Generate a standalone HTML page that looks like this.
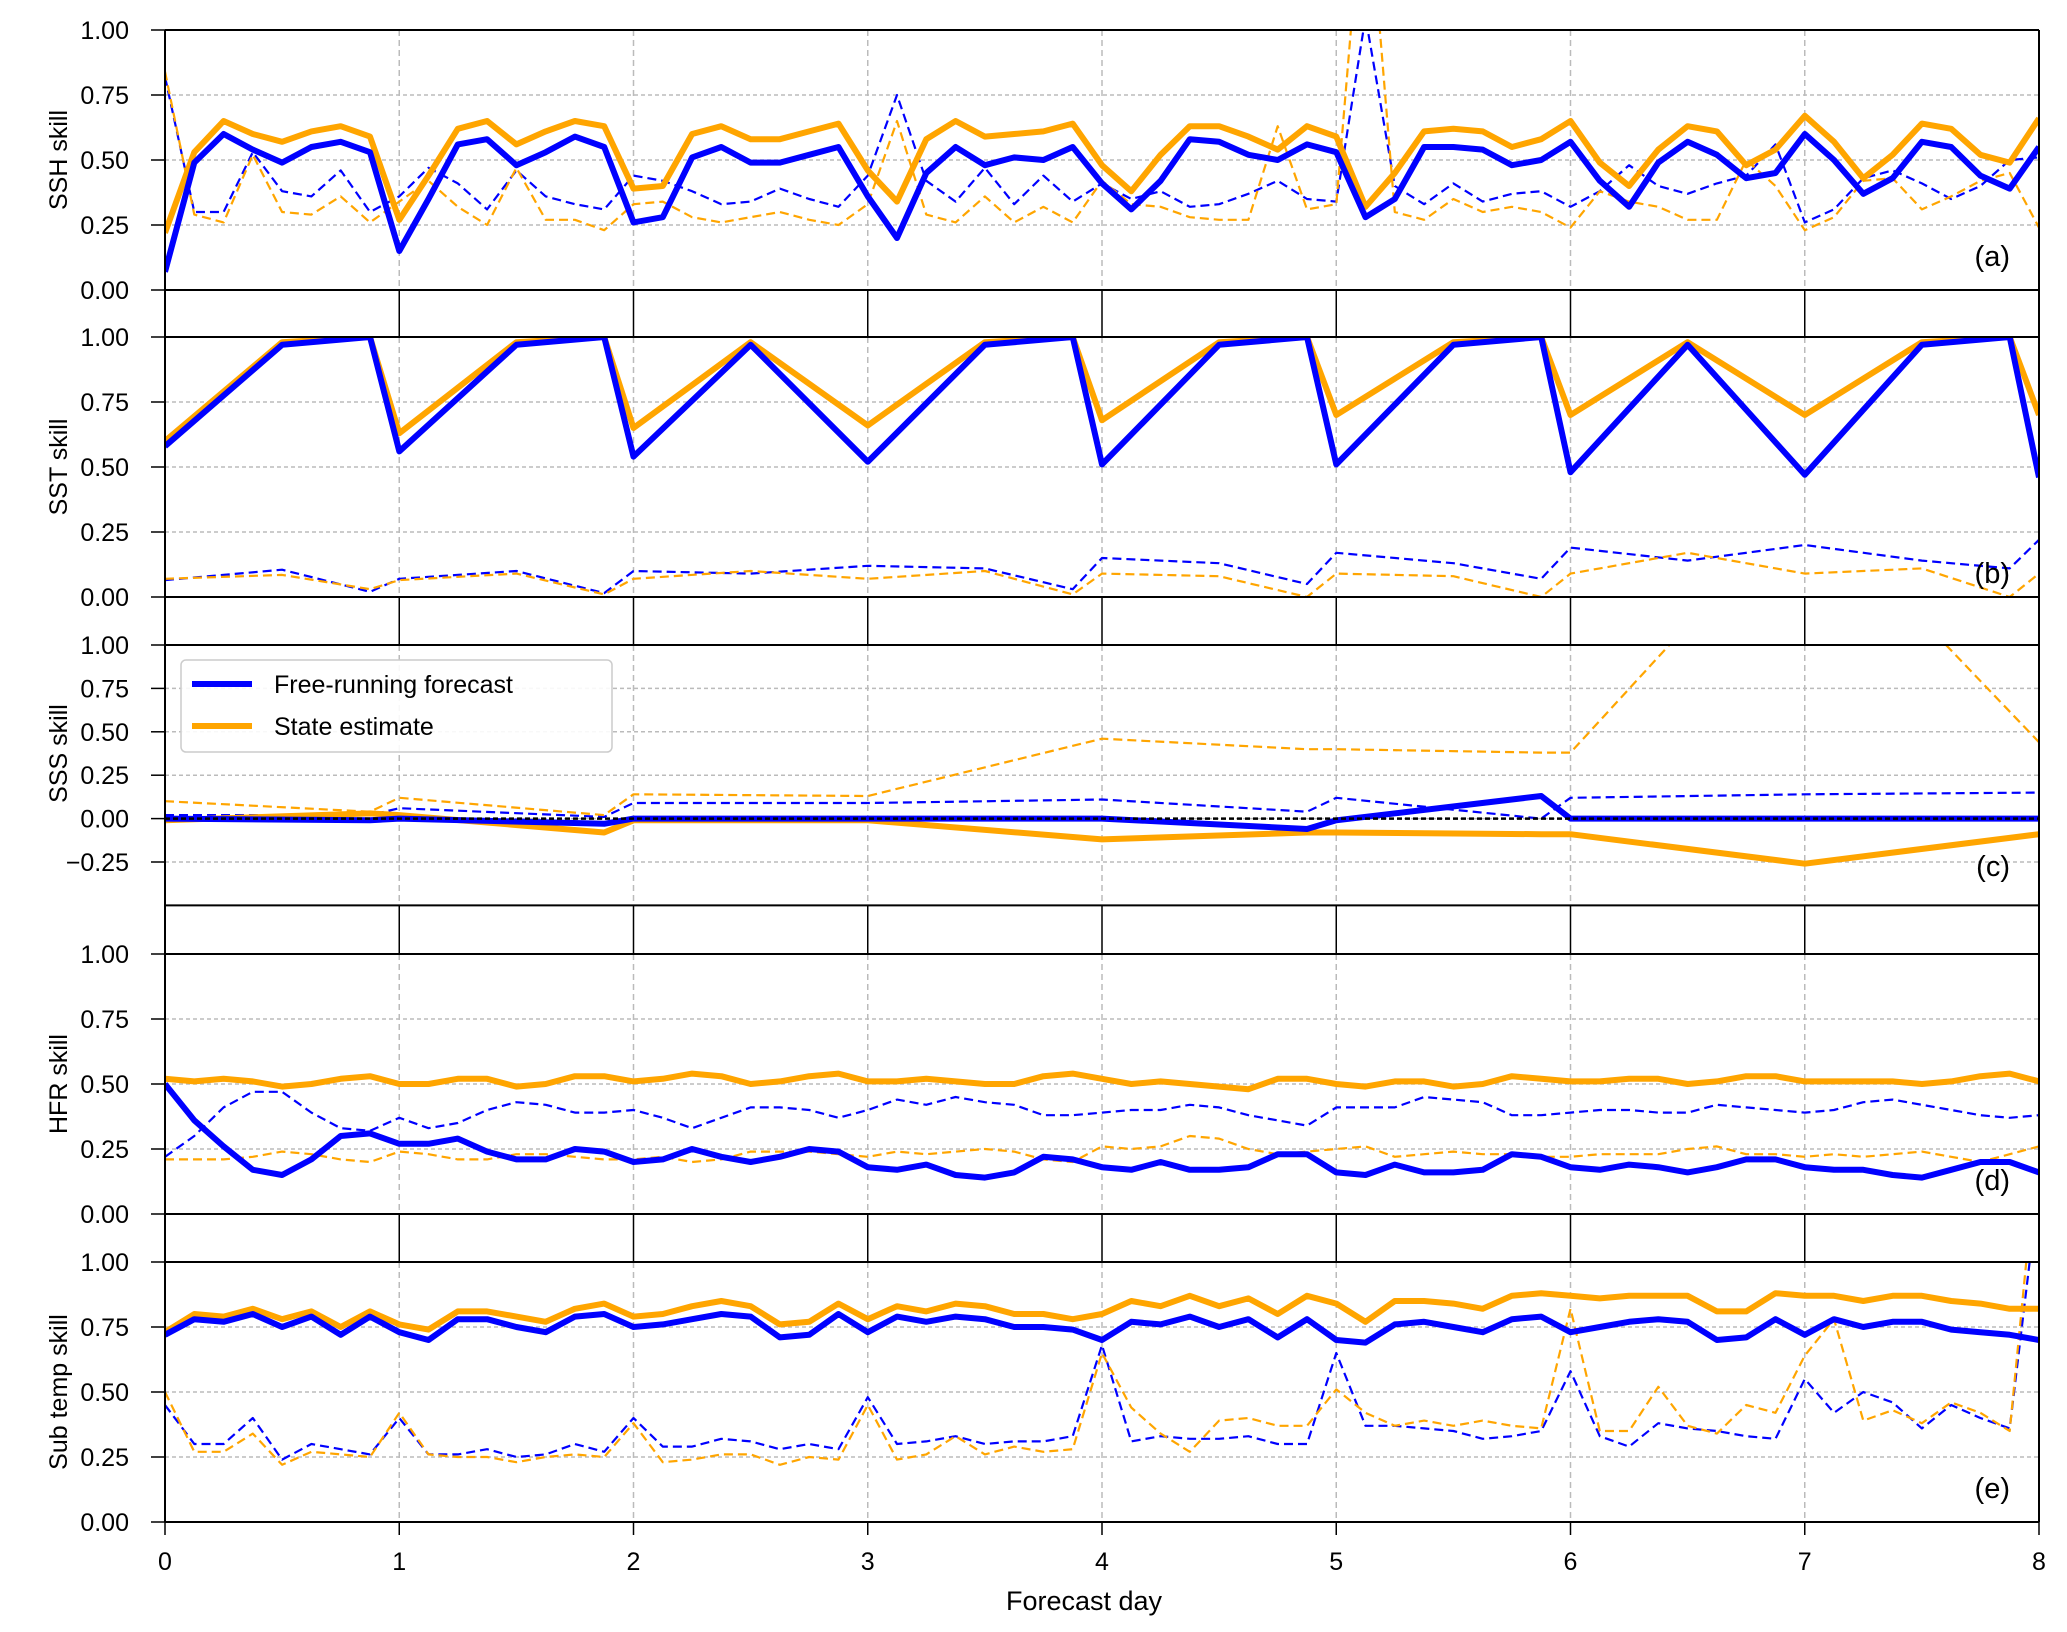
<!DOCTYPE html>
<html><head><meta charset="utf-8"><style>
html,body{margin:0;padding:0;background:#fff;}
svg{display:block;font-family:"Liberation Sans","DejaVu Sans",sans-serif;}
</style></head><body>
<svg id="chart" width="2067" height="1632" viewBox="0 0 2067 1632" xmlns="http://www.w3.org/2000/svg"></svg>
<script>
const x3h = [];
for (let i = 0; i <= 64; i++) x3h.push(i / 8);
const xDaily = [0,0.5,0.875,1,1.5,1.875,2,2.5,3,3.5,3.875,4,4.5,4.875,5,5.5,5.875,6,6.5,7,7.5,7.875,8];
const xSSS = [0,0.875,1,1.875,2,3,4,4.875,5,5.875,6,7,8];
const xTicks = [0,1,2,3,4,5,6,7,8];

const sshFree = [0.07,0.49,0.60,0.54,0.49,0.55,0.57,0.53,0.15,0.35,0.56,0.58,0.48,0.53,0.59,0.55,0.26,0.28,0.51,0.55,0.49,0.49,0.52,0.55,0.36,0.20,0.45,0.55,0.48,0.51,0.50,0.55,0.41,0.31,0.42,0.58,0.57,0.52,0.50,0.56,0.53,0.28,0.35,0.55,0.55,0.54,0.48,0.50,0.57,0.42,0.32,0.49,0.57,0.52,0.43,0.45,0.60,0.50,0.37,0.43,0.57,0.55,0.44,0.39,0.55];
const sshState = [0.22,0.53,0.65,0.60,0.57,0.61,0.63,0.59,0.27,0.44,0.62,0.65,0.56,0.61,0.65,0.63,0.39,0.40,0.60,0.63,0.58,0.58,0.61,0.64,0.46,0.34,0.58,0.65,0.59,0.60,0.61,0.64,0.48,0.38,0.52,0.63,0.63,0.59,0.54,0.63,0.59,0.32,0.45,0.61,0.62,0.61,0.55,0.58,0.65,0.49,0.40,0.54,0.63,0.61,0.48,0.54,0.67,0.57,0.43,0.52,0.64,0.62,0.52,0.49,0.66];
const sshFreeD = [0.82,0.30,0.30,0.53,0.38,0.36,0.46,0.30,0.36,0.47,0.41,0.31,0.46,0.36,0.33,0.31,0.44,0.42,0.38,0.33,0.34,0.39,0.35,0.32,0.44,0.75,0.42,0.34,0.47,0.33,0.44,0.34,0.41,0.35,0.38,0.32,0.33,0.37,0.42,0.35,0.34,1.05,0.40,0.33,0.41,0.34,0.37,0.38,0.32,0.38,0.48,0.40,0.37,0.41,0.44,0.56,0.26,0.31,0.43,0.46,0.41,0.35,0.40,0.50,0.51];
const sshStateD = [0.84,0.29,0.26,0.52,0.30,0.29,0.36,0.26,0.34,0.42,0.32,0.25,0.47,0.27,0.27,0.23,0.33,0.34,0.28,0.26,0.28,0.30,0.27,0.25,0.33,0.65,0.29,0.26,0.36,0.26,0.32,0.26,0.42,0.33,0.32,0.28,0.27,0.27,0.63,0.31,0.33,1.67,0.30,0.27,0.35,0.30,0.32,0.30,0.24,0.38,0.34,0.32,0.27,0.27,0.50,0.40,0.23,0.28,0.42,0.43,0.31,0.36,0.42,0.45,0.24];

const sstFree = [0.58,0.97,1.0,0.56,0.97,1.0,0.54,0.97,0.52,0.97,1.0,0.51,0.97,1.0,0.51,0.97,1.0,0.48,0.97,0.47,0.97,1.0,0.46];
const sstState = [0.60,0.98,1.0,0.63,0.98,1.0,0.65,0.98,0.66,0.98,1.0,0.68,0.98,1.0,0.70,0.98,1.0,0.70,0.98,0.70,0.98,1.0,0.70];
const sstFreeD = [0.065,0.105,0.02,0.07,0.10,0.015,0.10,0.09,0.12,0.11,0.03,0.15,0.13,0.05,0.17,0.13,0.07,0.19,0.14,0.20,0.14,0.11,0.22];
const sstStateD = [0.07,0.085,0.03,0.065,0.09,0.01,0.07,0.10,0.07,0.10,0.01,0.09,0.08,0.0,0.09,0.08,0.0,0.09,0.17,0.09,0.11,0.0,0.09];

const sssFree = [0.0,-0.01,0.0,-0.03,0.0,0.0,0.0,-0.06,-0.01,0.13,0.0,0.0,0.0];
const sssState = [-0.01,0.03,0.02,-0.08,-0.01,-0.01,-0.12,-0.08,-0.08,-0.09,-0.09,-0.26,-0.09];
const sssFreeD = [0.02,0.02,0.06,0.01,0.09,0.09,0.11,0.04,0.12,0.0,0.12,0.14,0.15];
const sssStateD = [0.10,0.04,0.12,0.02,0.14,0.13,0.46,0.40,0.40,0.38,0.38,1.85,0.44];

const hfrState = [0.52,0.51,0.52,0.51,0.49,0.50,0.52,0.53,0.50,0.50,0.52,0.52,0.49,0.50,0.53,0.53,0.51,0.52,0.54,0.53,0.50,0.51,0.53,0.54,0.51,0.51,0.52,0.51,0.50,0.50,0.53,0.54,0.52,0.50,0.51,0.50,0.49,0.48,0.52,0.52,0.50,0.49,0.51,0.51,0.49,0.50,0.53,0.52,0.51,0.51,0.52,0.52,0.50,0.51,0.53,0.53,0.51,0.51,0.51,0.51,0.50,0.51,0.53,0.54,0.51];
const hfrFree = [0.50,0.36,0.26,0.17,0.15,0.21,0.30,0.31,0.27,0.27,0.29,0.24,0.21,0.21,0.25,0.24,0.20,0.21,0.25,0.22,0.20,0.22,0.25,0.24,0.18,0.17,0.19,0.15,0.14,0.16,0.22,0.21,0.18,0.17,0.20,0.17,0.17,0.18,0.23,0.23,0.16,0.15,0.19,0.16,0.16,0.17,0.23,0.22,0.18,0.17,0.19,0.18,0.16,0.18,0.21,0.21,0.18,0.17,0.17,0.15,0.14,0.17,0.20,0.20,0.16];
const hfrFreeD = [0.22,0.30,0.41,0.47,0.47,0.39,0.33,0.32,0.37,0.33,0.35,0.40,0.43,0.42,0.39,0.39,0.40,0.37,0.33,0.37,0.41,0.41,0.40,0.37,0.40,0.44,0.42,0.45,0.43,0.42,0.38,0.38,0.39,0.40,0.40,0.42,0.41,0.38,0.36,0.34,0.41,0.41,0.41,0.45,0.44,0.43,0.38,0.38,0.39,0.40,0.40,0.39,0.39,0.42,0.41,0.40,0.39,0.40,0.43,0.44,0.42,0.40,0.38,0.37,0.38];
const hfrStateD = [0.21,0.21,0.21,0.22,0.24,0.23,0.21,0.20,0.24,0.23,0.21,0.21,0.23,0.23,0.22,0.21,0.21,0.22,0.20,0.21,0.24,0.24,0.24,0.23,0.22,0.24,0.23,0.24,0.25,0.24,0.21,0.20,0.26,0.25,0.26,0.30,0.29,0.25,0.23,0.24,0.25,0.26,0.22,0.23,0.24,0.23,0.23,0.22,0.22,0.23,0.23,0.23,0.25,0.26,0.23,0.23,0.22,0.23,0.22,0.23,0.24,0.22,0.20,0.23,0.26];

const subState = [0.73,0.80,0.79,0.82,0.78,0.81,0.75,0.81,0.76,0.74,0.81,0.81,0.79,0.77,0.82,0.84,0.79,0.80,0.83,0.85,0.83,0.76,0.77,0.84,0.78,0.83,0.81,0.84,0.83,0.80,0.80,0.78,0.80,0.85,0.83,0.87,0.83,0.86,0.80,0.87,0.84,0.77,0.85,0.85,0.84,0.82,0.87,0.88,0.87,0.86,0.87,0.87,0.87,0.81,0.81,0.88,0.87,0.87,0.85,0.87,0.87,0.85,0.84,0.82,0.82];
const subFree = [0.72,0.78,0.77,0.80,0.75,0.79,0.72,0.79,0.73,0.70,0.78,0.78,0.75,0.73,0.79,0.80,0.75,0.76,0.78,0.80,0.79,0.71,0.72,0.80,0.73,0.79,0.77,0.79,0.78,0.75,0.75,0.74,0.70,0.77,0.76,0.79,0.75,0.78,0.71,0.78,0.70,0.69,0.76,0.77,0.75,0.73,0.78,0.79,0.73,0.75,0.77,0.78,0.77,0.70,0.71,0.78,0.72,0.78,0.75,0.77,0.77,0.74,0.73,0.72,0.70];
const subFreeD = [0.45,0.30,0.30,0.40,0.24,0.30,0.28,0.26,0.40,0.26,0.26,0.28,0.25,0.26,0.30,0.27,0.40,0.29,0.29,0.32,0.31,0.28,0.30,0.28,0.48,0.30,0.31,0.33,0.30,0.31,0.31,0.33,0.68,0.31,0.33,0.32,0.32,0.33,0.30,0.30,0.65,0.37,0.37,0.36,0.35,0.32,0.33,0.35,0.58,0.33,0.29,0.38,0.36,0.35,0.33,0.32,0.55,0.42,0.50,0.46,0.36,0.45,0.40,0.36,1.30];
const subStateD = [0.50,0.27,0.27,0.34,0.22,0.27,0.26,0.25,0.42,0.26,0.25,0.25,0.23,0.25,0.26,0.25,0.38,0.23,0.24,0.26,0.26,0.22,0.25,0.24,0.45,0.24,0.26,0.33,0.26,0.29,0.27,0.28,0.65,0.44,0.34,0.27,0.39,0.40,0.37,0.37,0.51,0.42,0.37,0.39,0.37,0.39,0.37,0.36,0.82,0.35,0.35,0.52,0.37,0.34,0.45,0.42,0.64,0.78,0.39,0.43,0.38,0.46,0.42,0.35,1.50];

const yTicksStd = [0,0.25,0.5,0.75,1];
const yTicksSSS = [-0.25,0,0.25,0.5,0.75,1];

const svg = document.getElementById('chart');
const NS = 'http://www.w3.org/2000/svg';
const X0 = 165, DAY = 234.25, XR = X0 + 8 * DAY;
const BLUE = '#0000ff', ORANGE = '#ffa500';
function xs(d){ return X0 + d * DAY; }
function mk(tag, attrs, parent){
  const e = document.createElementNS(NS, tag);
  for (const k in attrs) e.setAttribute(k, attrs[k]);
  (parent || svg).appendChild(e);
  return e;
}
const defs = mk('defs', {});

const panels = [
  {key:'ssh', label:'SSH skill', tag:'(a)', top:30, zero:290, unit:260, lo:0, bottom:337, ticks:yTicksStd,
   series:[[x3h,sshFreeD,BLUE,true],[x3h,sshStateD,ORANGE,true],[x3h,sshState,ORANGE,false],[x3h,sshFree,BLUE,false]]},
  {key:'sst', label:'SST skill', tag:'(b)', top:337, zero:597, unit:260, lo:0, bottom:645, ticks:yTicksStd,
   series:[[xDaily,sstFreeD,BLUE,true],[xDaily,sstStateD,ORANGE,true],[xDaily,sstState,ORANGE,false],[xDaily,sstFree,BLUE,false]]},
  {key:'sss', label:'SSS skill', tag:'(c)', top:645, zero:818.6, unit:173.6, lo:-0.5, bottom:954, ticks:yTicksSSS,
   series:[[xSSS,sssFreeD,BLUE,true],[xSSS,sssStateD,ORANGE,true],[xSSS,sssState,ORANGE,false],[xSSS,sssFree,BLUE,false]]},
  {key:'hfr', label:'HFR skill', tag:'(d)', top:954, zero:1214, unit:260, lo:0, bottom:1262, ticks:yTicksStd,
   series:[[x3h,hfrFreeD,BLUE,true],[x3h,hfrStateD,ORANGE,true],[x3h,hfrState,ORANGE,false],[x3h,hfrFree,BLUE,false]]},
  {key:'subtemp', label:'Sub temp skill', tag:'(e)', top:1262, zero:1522, unit:260, lo:0, bottom:1522, ticks:yTicksStd,
   series:[[x3h,subFreeD,BLUE,true],[x3h,subStateD,ORANGE,true],[x3h,subState,ORANGE,false],[x3h,subFree,BLUE,false]]}
];

panels.forEach((p, pi) => {
  const g = mk('g', {});
  
  
  const ys = v => p.zero - v * p.unit;
  const axisY = ys(p.lo);
  const cid = 'clip' + pi;
  const cp = mk('clipPath', {id:cid}, defs);
  mk('rect', {x:X0, y:p.top, width:XR - X0, height:axisY - p.top}, cp);
  p.ticks.forEach(t => {
    if (t === 1) return;
    const gl = mk('line', {x1:X0, x2:XR, y1:ys(t), y2:ys(t), stroke:'#bbbbbb', 'stroke-width':1.5, 'stroke-dasharray':'4,3'}, g);
    
    
  });
  xTicks.forEach(d => {
    if (d === 0 || d === 8) return;
    const gl = mk('line', {x1:xs(d), x2:xs(d), y1:p.top, y2:axisY, stroke:'#bbbbbb', 'stroke-width':1.5, 'stroke-dasharray':'6,4'}, g);
    
    
  });
  const sg = mk('g', {'clip-path':'url(#' + cid + ')'}, g);
  p.series.forEach((s) => {
    const pts = s[0].map((d, i) => xs(d).toFixed(1) + ',' + ys(s[1][i]).toFixed(1)).join(' ');
    const pl = mk('polyline', {points:pts, fill:'none', stroke:s[2], 'stroke-width':s[3] ? 2.2 : 6, 'stroke-linejoin':'round', 'stroke-dasharray':s[3] ? '9,5' : 'none'}, sg);
    
    
  });
  if (p.key === 'sss') {
    const zl = mk('line', {x1:X0, x2:XR, y1:ys(0), y2:ys(0), stroke:'#000', 'stroke-width':2.5, 'stroke-dasharray':'5,3'}, g);
    
    
  }
  mk('line', {x1:X0, x2:XR, y1:p.top, y2:p.top, stroke:'#000', 'stroke-width':2}, g);
  mk('line', {x1:X0, x2:XR, y1:axisY, y2:axisY, stroke:'#000', 'stroke-width':2}, g);
  mk('line', {x1:X0, x2:X0, y1:p.top, y2:p.bottom, stroke:'#000', 'stroke-width':2}, g);
  mk('line', {x1:XR, x2:XR, y1:p.top, y2:p.bottom, stroke:'#000', 'stroke-width':2}, g);
  if (p.bottom > axisY + 1) {
    xTicks.forEach(d => {
      mk('line', {x1:xs(d), x2:xs(d), y1:axisY, y2:p.bottom, stroke:'#000', 'stroke-width':1.5}, g);
    });
  }
  p.ticks.forEach(t => {
    mk('line', {x1:X0 - 14, x2:X0, y1:ys(t), y2:ys(t), stroke:'#000', 'stroke-width':1.5}, g);
    const tl = mk('text', {x:129, y:ys(t) + 9, 'text-anchor':'end', 'font-size':25, fill:'#000'}, g);
    tl.textContent = t < 0 ? '\u22120.25' : t.toFixed(2);
    
    
  });
  const cy = (p.top + ys(p.lo === 0 ? 0 : -0.25)) / 2;
  const yl = mk('text', {x:0, y:0, transform:'translate(67,' + cy + ') rotate(-90)', 'text-anchor':'middle', 'font-size':25, fill:'#000'}, g);
  yl.textContent = p.label;
  
  
  const tagY = p.key === 'sss' ? 876 : (p.key === 'sst' ? 583 : axisY - 24);
  const pt = mk('text', {x:2010, y:tagY, 'text-anchor':'end', 'font-size':29, fill:'#000'}, g);
  pt.textContent = p.tag;
  
  
});

xTicks.forEach(d => {
  mk('line', {x1:xs(d), x2:xs(d), y1:1522, y2:1535, stroke:'#000', 'stroke-width':1.5});
  const t = mk('text', {x:xs(d), y:1570, 'text-anchor':'middle', 'font-size':25, fill:'#000'});
  t.textContent = String(d);
  
  
});
const xt = mk('text', {x:1084, y:1610, 'text-anchor':'middle', 'font-size':27, fill:'#000'});
xt.textContent = 'Forecast day';



const lg = mk('g', {});


mk('rect', {x:181, y:660, width:431, height:92, rx:5, fill:'#fff', 'fill-opacity':0.9, stroke:'#cccccc', 'stroke-width':1.5}, lg);
[['Free-running forecast', BLUE, 684], ['State estimate', ORANGE, 726]].forEach(r => {
  const e = mk('g', {}, lg);
  
  
  mk('line', {x1:192, x2:252, y1:r[2], y2:r[2], stroke:r[1], 'stroke-width':6}, e);
  const t = mk('text', {x:274, y:r[2] + 9, 'font-size':25, fill:'#000'}, e);
  t.textContent = r[0];
});
</script>
</body></html>
